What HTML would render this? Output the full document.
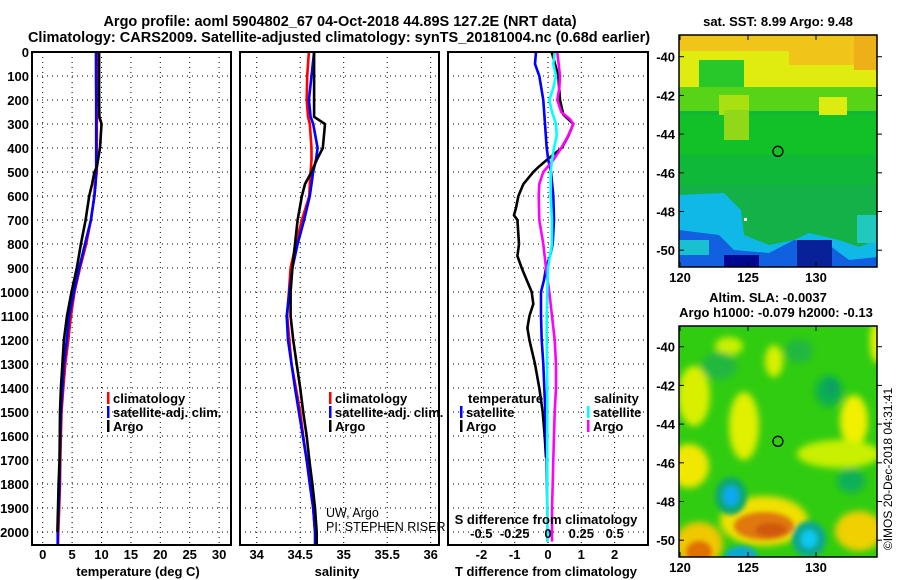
<!DOCTYPE html>
<html><head><meta charset="utf-8"><style>
html,body{margin:0;padding:0;background:#fff;}
svg{display:block;font-family:"Liberation Sans",sans-serif;}
.t{font-weight:bold;font-size:13px;}
.h{font-weight:bold;font-size:14.5px;}
</style></head><body>
<svg id="c" width="900" height="580" viewBox="0 0 900 580" xmlns="http://www.w3.org/2000/svg">
<defs>
<clipPath id="cp1"><rect x="32" y="52" width="199" height="493"/></clipPath>
<clipPath id="cp2"><rect x="240" y="52" width="199" height="493"/></clipPath>
<clipPath id="cp3"><rect x="448" y="52" width="200" height="493"/></clipPath>
<clipPath id="cm1"><rect x="679" y="35" width="198" height="232"/></clipPath>
<clipPath id="cm2"><rect x="679" y="326" width="198" height="231"/></clipPath>
<filter id="bl" x="-50%" y="-50%" width="200%" height="200%"><feGaussianBlur stdDeviation="3.5"/></filter>
<filter id="bl2" x="-50%" y="-50%" width="200%" height="200%"><feGaussianBlur stdDeviation="2.5"/></filter>
</defs>
<text class="h" x="340" y="26" text-anchor="middle">Argo profile: aoml 5904802_67 04-Oct-2018 44.89S 127.2E (NRT data)</text>
<text class="h" x="339" y="42" text-anchor="middle">Climatology: CARS2009. Satellite-adjusted climatology: synTS_20181004.nc (0.68d earlier)</text>
<g id="g"></g>
</svg>
<script>
// ---- Panel 1: temperature ----
const depthArgoT=[0,100,200,270,300,400,480,500,550,600,700,800,900,1000,1100,1200,1300,1400,1500,1600,1700,1800,1900,2000];
const argoT=[9.6,9.6,9.6,9.65,10.0,9.75,9.2,8.8,8.4,7.9,7.3,6.5,5.8,4.9,4.13,3.6,3.35,3.1,2.95,2.9,2.85,2.7,2.6,2.5];
const depthClimT=[0,100,200,300,400,500,550,600,700,800,900,1000,1100,1200,1300,1400,1500,1600,1700,1800,1900,2000,2055];
const climT=[9.3,9.3,9.4,9.2,9.2,9.2,8.9,8.8,8.2,7.4,6.35,5.4,4.8,4.35,3.85,3.5,3.2,3.1,3.0,2.95,2.8,2.65,2.6];
const satT=[9.06,9.06,9.1,9.1,9.1,9.1,9.0,8.8,8.2,7.2,6.2,5.3,4.5,4.1,3.6,3.35,3.1,3.0,2.9,2.85,2.7,2.55,2.55];
const tempTicks=[0,5,10,15,20,25,30];
// ---- Panel 2: salinity ----
const depthS=[0,100,200,270,300,400,450,500,550,600,700,800,900,1000,1100,1200,1300,1400,1500,1600,1700,1800,1900,2000,2055];
const argoS=[34.66,34.66,34.66,34.66,34.785,34.76,34.69,34.63,34.555,34.52,34.47,34.44,34.41,34.39,34.39,34.42,34.46,34.50,34.535,34.575,34.605,34.64,34.67,34.69,34.69];
const climS=[34.6,34.58,34.575,34.59,34.61,34.63,34.63,34.62,34.61,34.605,34.52,34.45,34.39,34.37,34.35,34.375,34.40,34.45,34.50,34.535,34.575,34.61,34.65,34.67,34.69];
const satS=[34.66,34.63,34.60,34.62,34.65,34.70,34.68,34.65,34.63,34.61,34.545,34.47,34.41,34.375,34.345,34.36,34.40,34.44,34.485,34.53,34.575,34.61,34.65,34.67,34.67];
const salTicks=[34,34.5,35,35.5,36];
// ---- Panel 3: differences ----
const depthArgoDT=[0,100,200,260,300,350,400,450,480,500,550,600,650,680,700,800,850,900,950,1000,1050,1100,1150,1200,1300,1400,1500,1600,1690];
const argoDT=[0.11,0.31,0.36,0.46,0.76,0.61,0.41,-0.04,-0.29,-0.44,-0.74,-0.89,-0.96,-1.02,-0.92,-0.87,-0.92,-0.79,-0.64,-0.49,-0.44,-0.56,-0.62,-0.56,-0.39,-0.26,-0.16,-0.10,-0.06];
const depthSatDT=[0,50,100,200,300,400,450,500,600,700,800,850,900,950,1000,1100,1200,1300,1400,1500,1600,1700,1800,1900,2040];
const satDT=[-0.36,-0.39,-0.26,-0.14,-0.09,-0.04,0.01,0.09,0.16,0.18,0.14,0.06,-0.06,-0.12,-0.21,-0.21,-0.19,-0.14,-0.11,-0.08,-0.06,-0.04,-0.03,-0.02,-0.02];
const depthArgoDS=[0,100,150,200,250,280,300,350,400,450,500,550,600,700,800,900,1000,1100,1200,1300,1400,1500,1600,1700,1800,1900,2040];
const argoDS=[0.07,0.09,0.085,0.07,0.10,0.165,0.19,0.15,0.10,0.04,-0.035,-0.065,-0.07,-0.065,-0.035,-0.015,0.01,0.03,0.05,0.06,0.06,0.05,0.045,0.04,0.035,0.03,0.03];
const depthSatDS=[0,50,100,150,200,250,300,350,400,450,500,600,700,800,900,1000,1100,1200,1400,1600,1800,2040];
const satDS=[0.05,0.04,0.06,0.04,0.01,0.03,0.06,0.065,0.045,0.03,0.02,0.02,0.03,0.03,0,-0.005,-0.01,-0.01,-0.005,-0.005,-0.005,-0.005];
const dTTicks=[-2,-1,0,1,2];
const dSTicks=[-0.5,-0.25,0,0.25,0.5];
const dSTickLabels=["-0.5","-0.25","0","0.25","0.5"];
const depthTicks=[0,100,200,300,400,500,600,700,800,900,1000,1100,1200,1300,1400,1500,1600,1700,1800,1900,2000];
const mapLonTicks=[120,125,130];
const mapLatTicks=[-40,-42,-44,-46,-48,-50];
const argoLon=127.2, argoLat=-44.89;

const NS="http://www.w3.org/2000/svg";
const G=document.getElementById('g');
function el(tag,attrs,parent,txt){const e=document.createElementNS(NS,tag);for(const k in attrs)e.setAttribute(k,attrs[k]);if(txt!==undefined)e.textContent=txt;(parent||G).appendChild(e);return e;}
const yD=d=>52+d*0.24;
const xT=v=>42.7+v*5.88;
const xS=v=>256.7+(v-34)*87;
const xDT=v=>548+v*33.3;
const xDS=v=>548+v*133.3;

function panel(x0,w,name){
  const g=el('g',{});
  
  
  return g;
}
function grid(g,x0,w,xs){
  depthTicks.forEach(d=>{if(d>0){const l=el('line',{x1:x0,x2:x0+w,y1:yD(d),y2:yD(d),stroke:'#000','stroke-width':1,'stroke-dasharray':'1,4'},g);
    }});
  xs.forEach(x=>{const l=el('line',{x1:x,x2:x,y1:52,y2:545,stroke:'#000','stroke-width':1,'stroke-dasharray':'1,4'},g);
    });
}
function frame(g,x0,w){
  const r=el('rect',{x:x0,y:52,width:w,height:493,fill:'none',stroke:'#000','stroke-width':2},g);
  
}
function line(g,xs,ds,fx,color,clip,name){
  const p=el('polyline',{points:xs.map((v,i)=>fx(v).toFixed(1)+','+yD(ds[i]).toFixed(1)).join(' '),fill:'none',stroke:color,'stroke-width':2.6,'clip-path':'url(#'+clip+')'},g);
  
}
function xlabels(g,ticks,fx,labels,y,name){
  ticks.forEach((v,i)=>{const t=el('text',{x:fx(v),y:y,'text-anchor':'middle',class:'t'},g,labels?labels[i]:String(v));
    });
}
function legend(g,x,y,color,label,name){
  const r=el('rect',{x:x,y:y-11,width:2.5,height:12,fill:color},g);
  
  const t=el('text',{x:x+6,y:y,class:'t'},g,label);
  
}

const dl=el('g',{});


depthTicks.forEach(d=>{const t=el('text',{x:29,y:yD(d)+5,'text-anchor':'end',class:'t'},dl,String(d));
  });

const p1=panel(32,199,'temperature-panel');
grid(p1,32,199,tempTicks.map(xT));
line(p1,climT,depthClimT,xT,'#ff0000','cp1','climatology-temperature-line');
line(p1,satT,depthClimT,xT,'#0000ff','cp1','satellite-temperature-line');
line(p1,argoT,depthArgoT,xT,'#000000','cp1','argo-temperature-line');
frame(p1,32,199);
xlabels(p1,tempTicks,xT,null,559,'temperature-tick-label');
{const t=el('text',{x:138,y:576,'text-anchor':'middle',class:'t'},p1,'temperature (deg C)');}
legend(p1,107,403,'#ff0000','climatology','legend-climatology');
legend(p1,107,417,'#0000ff','satellite-adj. clim.','legend-satellite-adj');
legend(p1,107,431,'#000000','Argo','legend-argo');

const p2=panel(240,199,'salinity-panel');
grid(p2,240,199,salTicks.map(xS));
line(p2,climS,depthS,xS,'#ff0000','cp2','climatology-salinity-line');
line(p2,satS,depthS,xS,'#0000ff','cp2','satellite-salinity-line');
line(p2,argoS,depthS,xS,'#000000','cp2','argo-salinity-line');
frame(p2,240,199);
xlabels(p2,salTicks,xS,null,559,'salinity-tick-label');
{const t=el('text',{x:337,y:576,'text-anchor':'middle',class:'t'},p2,'salinity');}
legend(p2,329,403,'#ff0000','climatology','legend-climatology');
legend(p2,329,417,'#0000ff','satellite-adj. clim.','legend-satellite-adj');
legend(p2,329,431,'#000000','Argo','legend-argo');
{const t=el('text',{x:326,y:517,'font-size':'12.5px'},p2,'UW, Argo');
 const t2=el('text',{x:326,y:531,'font-size':'12.5px'},p2,'PI: STEPHEN RISER');}

const p3=panel(448,200,'difference-panel');
grid(p3,448,200,dTTicks.map(xDT));
line(p3,argoDT,depthArgoDT,xDT,'#000000','cp3','argo-temperature-diff-line');
line(p3,satDT,depthSatDT,xDT,'#0000ff','cp3','satellite-temperature-diff-line');
line(p3,argoDS,depthArgoDS,xDS,'#ff00ff','cp3','argo-salinity-diff-line');
line(p3,satDS,depthSatDS,xDS,'#00ffff','cp3','satellite-salinity-diff-line');
frame(p3,448,200);
xlabels(p3,dSTicks,xDS,dSTickLabels,538,'salinity-diff-tick-label');
{const t=el('text',{x:546,y:524,'text-anchor':'middle',class:'t'},p3,'S difference from climatology');}
xlabels(p3,dTTicks,xDT,null,559,'temperature-diff-tick-label');
{const t=el('text',{x:546,y:576,'text-anchor':'middle',class:'t'},p3,'T difference from climatology');}
{const t=el('text',{x:468,y:403,class:'t'},p3,'temperature');
 const t2=el('text',{x:594,y:403,class:'t'},p3,'salinity');}
legend(p3,460,417,'#0000ff','satellite','legend-temperature-satellite');
legend(p3,460,431,'#000000','Argo','legend-temperature-argo');
legend(p3,587,417,'#00ffff','satellite','legend-salinity-satellite');
legend(p3,587,431,'#ff00ff','Argo','legend-salinity-argo');

// ---- Maps ----
const mlonX=lon=>680+(lon-120)*13.6;
function mapAxes(g,top,bot,latY){
  const r=el('rect',{x:679,y:top,width:198,height:bot-top,fill:'none',stroke:'#000','stroke-width':1.5},g);
  
  mapLonTicks.forEach(v=>{
    el('line',{x1:mlonX(v),x2:mlonX(v),y1:top,y2:top+5,stroke:'#000'},g);
    el('line',{x1:mlonX(v),x2:mlonX(v),y1:bot,y2:bot-5,stroke:'#000'},g);
    const t=el('text',{x:mlonX(v),y:bot+15,'text-anchor':'middle',class:'t'},g,String(v));
    
  });
  mapLatTicks.forEach(v=>{
    const y=latY(v);
    el('line',{x1:679,x2:684,y1:y,y2:y,stroke:'#000'},g);
    el('line',{x1:877,x2:882,y1:y,y2:y,stroke:'#000'},g);
    const t=el('text',{x:675,y:y+5,'text-anchor':'end',class:'t'},g,String(v));
    
  });
  const c=el('circle',{cx:mlonX(argoLon),cy:latY(argoLat),r:5,fill:'none',stroke:'#000','stroke-width':1.3},g);
  
}
const m1=el('g',{});


const lat1=v=>56.7+(-40-v)*19.35;
{
 const g=el('g',{'clip-path':'url(#cm1)'},m1);
 const X=679,Y=35;
 const shapes=[
  ['rect',{x:X,y:Y,width:198,height:232,fill:'#10b83a'}],
  ['rect',{x:X,y:Y,width:198,height:60,fill:'#e0ec10'}],
  ['rect',{x:X,y:Y,width:198,height:16,fill:'#f0c418'}],
  ['rect',{x:X+110,y:Y,width:88,height:30,fill:'#f0c418'}],
  ['rect',{x:X+175,y:Y,width:23,height:35,fill:'#eeb018'}],
  ['rect',{x:X+20,y:Y+25,width:45,height:40,fill:'#28c82a'}],
  ['rect',{x:X,y:Y+52,width:198,height:24,fill:'#58d418'}],
  ['rect',{x:X+40,y:Y+60,width:30,height:45,fill:'#a8e010'}],
  ['rect',{x:X+140,y:Y+62,width:28,height:22,fill:'#dcec10'}],
  ['rect',{x:X,y:Y+80,width:198,height:40,fill:'#12c028'}],
  ['rect',{x:X+45,y:Y+75,width:25,height:30,fill:'#90d818'}],
  ['rect',{x:X,y:Y+150,width:198,height:82,fill:'#14b048'}],
  ['path',{d:`M${X} ${Y+160} L${X+45} ${Y+158} L${X+62} ${Y+175} L${X+65} ${Y+200} L${X+90} ${Y+210} L${X+115} ${Y+205} L${X+130} ${Y+198} L${X+160} ${Y+205} L${X+180} ${Y+212} L${X+198} ${Y+205} L${X+198} ${Y+232} L${X} ${Y+232} Z`,fill:'#10b8e8'}],
  ['path',{d:`M${X} ${Y+195} L${X+40} ${Y+200} L${X+55} ${Y+215} L${X+90} ${Y+218} L${X+115} ${Y+205} L${X+150} ${Y+210} L${X+170} ${Y+225} L${X+198} ${Y+222} L${X+198} ${Y+232} L${X} ${Y+232} Z`,fill:'#1060e0'}],
  ['rect',{x:X+45,y:Y+220,width:35,height:12,fill:'#000890'}],
  ['rect',{x:X+118,y:Y+205,width:35,height:27,fill:'#082098'}],
  ['rect',{x:X+178,y:Y+180,width:20,height:28,fill:'#20c8c0'}],
  ['rect',{x:X+40,y:Y+175,width:22,height:25,fill:'#10b8e8'}],
  ['rect',{x:X,y:Y+205,width:30,height:15,fill:'#18c0d0'}],
 ];
 shapes.forEach(s=>{const e=el(s[0],s[1],g);});
 el('rect',{x:X+65,y:Y+183,width:3,height:3,fill:'#fff'},g);
 mapAxes(m1,35,267,lat1);
 const t=el('text',{x:778,y:26,'text-anchor':'middle',class:'t'},m1,'sat. SST: 8.99 Argo: 9.48');
 
}
const m2=el('g',{});


const lat2=v=>346.7+(-40-v)*19.35;
{
 const g=el('g',{'clip-path':'url(#cm2)'},m2);
 el('rect',{x:679,y:326,width:198,height:231,fill:'#30cc10'},g);
 const X=679,Y=326;
 const bl=el('g',{filter:'url(#bl)'},g);
 const blobs=[
  [X+15,Y+70,16,30,'#d8f000'],[X+65,Y+100,15,34,'#e0f000'],[X+175,Y+95,14,26,'#f0f000'],
  [X+10,Y+140,20,22,'#f0e800'],[X+160,Y+128,42,14,'#c8f000'],[X+95,Y+35,9,16,'#d8f000'],
  [X+50,Y+20,14,9,'#c8f000'],[X+150,Y+65,14,16,'#10b050'],[X+172,Y+155,14,12,'#10b058'],
  [X+40,Y+40,18,14,'#20b840'],[X+120,Y+25,14,12,'#20b840'],
  [X+180,Y+205,24,20,'#f0d000'],[X+20,Y+218,24,22,'#f0c800'],
  [X+85,Y+195,44,25,'#f0e000'],[X+198,Y+15,7,22,'#e8f000']
 ];
 blobs.forEach(b=>{const e=el('ellipse',{cx:b[0],cy:b[1],rx:b[2],ry:b[3],fill:b[4]},bl);});
 const b2=el('g',{filter:'url(#bl2)'},g);
 const blobs2=[
  [X+52,Y+170,16,19,'#10a870'],[X+52,Y+170,8,10,'#10a8f0'],[X+130,Y+213,17,18,'#10a890'],[X+130,Y+213,8,9,'#10c8f0'],
  [X+62,Y+230,16,10,'#10a8d0'],[X+85,Y+200,30,14,'#e07808'],[X+92,Y+204,16,7,'#d05808'],
  [X+20,Y+226,13,11,'#e07000'],[X+152,Y+62,6,8,'#10a060']
 ];
 blobs2.forEach(b=>{const e=el('ellipse',{cx:b[0],cy:b[1],rx:b[2],ry:b[3],fill:b[4]},b2);});
 mapAxes(m2,326,557,lat2);
 const t=el('text',{x:768,y:302,'text-anchor':'middle',class:'t'},m2,'Altim. SLA: -0.0037');
 
 const t2=el('text',{x:776,y:317,'text-anchor':'middle',class:'t'},m2,'Argo h1000: -0.079 h2000: -0.13');
 
}
{const t=el('text',{x:0,y:0,'font-size':'12px',transform:'translate(892,469) rotate(-90)','text-anchor':'middle'},G,'©IMOS 20-Dec-2018 04:31:41');
 }
</script>
</body></html>
